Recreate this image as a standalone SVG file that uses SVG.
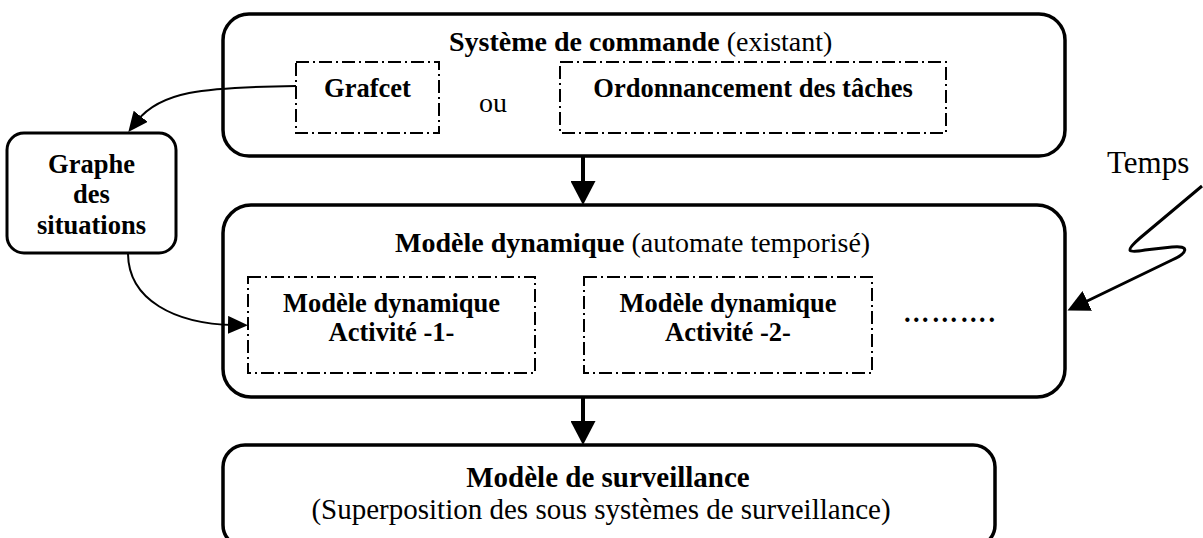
<svg xmlns="http://www.w3.org/2000/svg" width="1203" height="538" viewBox="0 0 1203 538">
<style>
  .box{fill:#fff;stroke:#000;stroke-width:3.5}
  .sbox{fill:#fff;stroke:#000;stroke-width:3}
  .dash{fill:none;stroke:#000;stroke-width:2;stroke-dasharray:13 4 2 4}
  text{font-family:"Liberation Serif","Times New Roman",serif;fill:#000}
  .b{font-weight:bold;font-size:28px}
  .bi{font-weight:bold;font-size:26.5px}
  .r{font-size:28px;font-weight:normal}
  .thin{fill:none;stroke:#000;stroke-width:2}
  .thick{fill:none;stroke:#000;stroke-width:4}
  .med{fill:none;stroke:#000;stroke-width:3}
</style>
<defs>
  <marker id="big" viewBox="0 0 24 25" refX="9" refY="12.5" markerWidth="24" markerHeight="25" markerUnits="userSpaceOnUse" orient="auto">
    <path d="M0,0 L24,12.5 L0,25 z" fill="#000"/>
  </marker>
  <marker id="small" viewBox="0 0 20 18" refX="6" refY="9" markerWidth="20" markerHeight="18" markerUnits="userSpaceOnUse" orient="auto">
    <path d="M0,0 L20,9 L0,18 z" fill="#000"/>
  </marker>
  <marker id="temps" viewBox="0 0 22 22" refX="7" refY="11" markerWidth="22" markerHeight="22" markerUnits="userSpaceOnUse" orient="auto">
    <path d="M0,0 L22,11 L0,22 z" fill="#000"/>
  </marker>
</defs>

<g id="systeme-commande">
  <rect class="box" x="223" y="14" width="842" height="142" rx="26"/>
  <text x="449" y="51"><tspan class="b">Système de commande</tspan><tspan class="r"> (existant)</tspan></text>
  <g id="grafcet">
    <rect class="dash" x="296" y="62" width="143" height="71"/>
    <text class="bi" x="367.5" y="97" text-anchor="middle">Grafcet</text>
  </g>
  <text class="r" x="493" y="112" text-anchor="middle">ou</text>
  <g id="ordonnancement">
    <rect class="dash" x="560" y="62" width="386" height="71"/>
    <text class="bi" x="753" y="97" text-anchor="middle">Ordonnancement des tâches</text>
  </g>
</g>

<g id="graphe-situations">
  <rect class="sbox" x="7" y="133" width="169" height="120" rx="17"/>
  <text class="bi" x="91.5" y="173" text-anchor="middle">Graphe</text>
  <text class="bi" x="91.5" y="203" text-anchor="middle">des</text>
  <text class="bi" x="91.5" y="234" text-anchor="middle">situations</text>
</g>

<g id="modele-dynamique">
  <rect class="box" x="223" y="205" width="842" height="192" rx="28"/>
  <text x="395" y="252"><tspan class="b">Modèle dynamique</tspan><tspan class="r"> (automate temporisé)</tspan></text>
  <g id="activite-1">
    <rect class="dash" x="248" y="277" width="287" height="96"/>
    <text class="bi" x="391.5" y="312" text-anchor="middle">Modèle dynamique</text>
    <text class="bi" x="391.5" y="341" text-anchor="middle">Activité -1-</text>
  </g>
  <g id="activite-2">
    <rect class="dash" x="584" y="277" width="288" height="96"/>
    <text class="bi" x="728" y="312" text-anchor="middle">Modèle dynamique</text>
    <text class="bi" x="728" y="341" text-anchor="middle">Activité -2-</text>
  </g>
  <text class="bi" x="903" y="322" textLength="92" lengthAdjust="spacing">……….</text>
</g>

<g id="modele-surveillance">
  <rect class="box" x="223" y="445" width="772" height="102" rx="22"/>
  <text class="b" x="608" y="487" text-anchor="middle" style="font-size:29px">Modèle de surveillance</text>
  <text class="r" x="601" y="519" text-anchor="middle" style="font-size:29px">(Superposition des sous systèmes de surveillance)</text>
</g>

<g id="temps">
  <text class="r" x="1107" y="173" style="font-size:31px">Temps</text>
</g>

<g id="connectors">
  <line class="thick" x1="583" y1="157" x2="583" y2="190" marker-end="url(#big)"/>
  <line class="thick" x1="583" y1="398" x2="583" y2="430" marker-end="url(#big)"/>
  <path class="thin" d="M296,86 C200,87 160,92 137,121" marker-end="url(#small)"/>
  <path class="thin" d="M128,253 C128,300 175,324 234,325" marker-end="url(#small)"/>
  <path class="med" d="M1202,186 L1140,238 C1124,252 1128,253 1145,250 L1172,247 C1190,245 1188,253 1172,260 L1081,304" marker-end="url(#temps)"/>
</g>
</svg>
